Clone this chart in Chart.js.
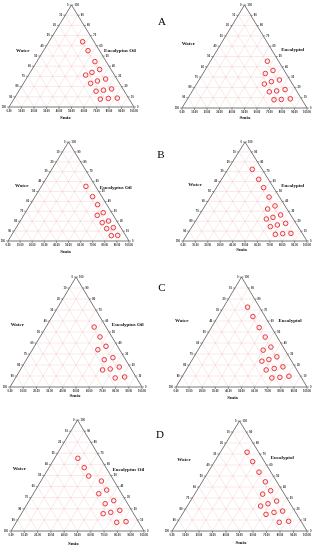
<!DOCTYPE html>
<html>
<head>
<meta charset="utf-8">
<script src="https://cdn.jsdelivr.net/npm/chart.js@4/dist/chart.umd.min.js"></script>
<style>
  html, body { margin: 0; padding: 0; background: #fff; }
  #wrap { position: relative; width: 320px; height: 550px; overflow: hidden; }
  canvas { position: absolute; }
  .letter { position: absolute; font-family: "Liberation Serif", serif; font-size: 11px; color: #000; transform: translate(-50%, -50%); }
</style>
</head>
<body>
<div id="wrap"></div>
<script>
// ---- data: each point is (Smix %, Oil %); Water = 100 - Smix - Oil ----
const A1_smix = [26.9, 35.6, 46.5, 54.1, 49.4, 45.7, 63.6, 58, 53.7, 73.2, 67.3, 61.9, 82.3, 75.3, 69.2];
const A1_oil  = [64, 55.2, 44.5, 36.8, 33.9, 31.3, 27.4, 25.5, 23.2, 17.7, 16.5, 15.5, 8.7, 8.4, 7.7];
const A2_smix = [45.6, 54.6, 49.9, 64.3, 58.7, 54.2, 73.5, 67.4, 62, 82.2, 75.3, 69.6];
const A2_oil  = [45.4, 36.4, 33.5, 27.2, 25.6, 23.3, 17.9, 16.6, 15.7, 8.9, 8.3, 8];
const B1_smix = [36.8, 47.5, 55.7, 64.4, 60.8, 73, 68.6, 80.3, 75.3, 87.8, 82.7];
const B1_oil  = [55.2, 44.8, 36.7, 28.6, 25.9, 20.2, 18.5, 13.5, 12.5, 5.7, 5.4];
const B2_smix = [19.7, 29.9, 38.1, 47.2, 56.5, 52.1, 65.6, 60.6, 56.1, 73.9, 68, 63.2, 83.2, 76.7, 71.1];
const B2_oil  = [72.4, 62.3, 53.9, 44.4, 35.4, 32.3, 26.3, 23.9, 22.2, 17.8, 16.2, 14.5, 7.7, 7.4, 6.7];
const C1_smix = [36.5, 45.4, 54.2, 49.6, 64.6, 59, 73.7, 67.7, 62.4, 82.3, 75.6];
const C1_oil  = [54.5, 45.5, 37, 33.9, 26.7, 24.8, 18.2, 16.4, 15.5, 9.1, 8.2];
const C2_smix = [18.3, 26.7, 36.5, 45.4, 54.3, 49.8, 63.3, 58.4, 53.8, 72.5, 66.6, 61.1, 81.3, 74.9, 69.1];
const C2_oil  = [72.6, 64, 54, 45.4, 36.3, 33.5, 27.4, 25, 23.5, 18.3, 16.8, 15.5, 9.8, 8.8, 8.2];
const D1_smix = [17.5, 26.5, 33.7, 45.5, 53.5, 49.2, 63.6, 58.5, 72.5, 66.6, 61.5, 82.3, 75.6];
const D1_oil  = [65.5, 57.1, 49.5, 45, 36.9, 33.6, 27.3, 24.6, 18.6, 16.8, 15.6, 8.4, 7.8];
const D2_smix = [19.8, 28.2, 37.7, 46.8, 54.8, 50.4, 63.9, 58.7, 54.3, 72.9, 67.1, 62.1, 82, 75.5];
const D2_oil  = [71.6, 63.1, 53.5, 44.7, 36.6, 33.5, 27.2, 24.8, 22.7, 18.1, 16.9, 15.1, 8.8, 7.9];

const tickSteps = [0, 10, 20, 30, 40, 50, 60, 70, 80, 90, 100];
const bottomTickLabels = tickSteps.map(v => v.toFixed(2));
const panelLetters = ['A', 'B', 'C', 'D'];
const oilNames = ['Eucalyptus Oil', 'Eucalyptol'];
const waterName = 'Water';
const smixName = 'Smix';

// ---- layout (canvas box, triangle padding, label positions) ----
const panels = [
  { smix: A1_smix, oil: A1_oil, oilName: oilNames[0], box: [0, 0, 160, 128],   pad: {left: 9,  right: 26, top: 4,  bottom: 21}, water: [22.7, 50.3], oilPos: [120, 50.3],   smixPos: [65.3, 117.3] },
  { smix: A2_smix, oil: A2_oil, oilName: oilNames[1], box: [160, 0, 160, 128], pad: {left: 22, right: 13, top: 3,  bottom: 20}, water: [28.3, 44],   oilPos: [132.7, 49.3], smixPos: [85, 117.3] },
  { smix: B1_smix, oil: B1_oil, oilName: oilNames[0], box: [0, 128, 160, 134], pad: {left: 8,  right: 31, top: 14, bottom: 21}, water: [21.7, 57.7], oilPos: [115.7, 59.3], smixPos: [65.7, 123.7] },
  { smix: B2_smix, oil: B2_oil, oilName: oilNames[1], box: [160, 128, 160, 134], pad: {left: 23, right: 13, top: 14, bottom: 21}, water: [35, 56.3], oilPos: [132.7, 57.7], smixPos: [81.7, 121.3] },
  { smix: C1_smix, oil: C1_oil, oilName: oilNames[0], box: [0, 262, 160, 138], pad: {left: 10, right: 18, top: 15, bottom: 13}, water: [17.3, 62.3], oilPos: [127.7, 62.7], smixPos: [75, 134] },
  { smix: C2_smix, oil: C2_oil, oilName: oilNames[1], box: [160, 262, 160, 138], pad: {left: 16, right: 13, top: 15, bottom: 13}, water: [21.7, 59], oilPos: [130, 59], smixPos: [72.7, 135.3] },
  { smix: D1_smix, oil: D1_oil, oilName: oilNames[0], box: [0, 400, 160, 150], pad: {left: 11, right: 16, top: 20, bottom: 19}, water: [19.3, 69], oilPos: [128.3, 69.3], smixPos: [73.3, 143.3] },
  { smix: D2_smix, oil: D2_oil, oilName: oilNames[1], box: [160, 400, 160, 150], pad: {left: 12, right: 13, top: 21, bottom: 19}, water: [24, 59.3], oilPos: [122.3, 57.7], smixPos: [81, 142.3] }
];
const letterPos = [[162, 21], [161, 154], [162, 287], [160, 434]];

const ternaryPlugin = {
  id: 'ternary',
  beforeDatasetsDraw(chart, args, opts) {
    const ctx = chart.ctx;
    const xs = chart.scales.x, ys = chart.scales.y;
    const P = (x, y) => [xs.getPixelForValue(x), ys.getPixelForValue(y)];
    const line = (a, b) => { ctx.beginPath(); ctx.moveTo(a[0], a[1]); ctx.lineTo(b[0], b[1]); ctx.stroke(); };
    ctx.save();
    // grid
    ctx.strokeStyle = 'rgba(232,150,150,0.45)';
    ctx.lineWidth = 0.5;
    for (const k of tickSteps) {
      if (k === 0 || k === 100) continue;
      line(P(k / 2, k), P(100 - k / 2, k));
      line(P(k, 0), P(k + (100 - k) / 2, 100 - k));
      line(P(100 - k, 0), P((100 - k) / 2, 100 - k));
    }
    // frame
    ctx.strokeStyle = '#555';
    ctx.lineWidth = 0.8;
    ctx.beginPath();
    const a = P(0, 0), b = P(100, 0), c = P(50, 100);
    ctx.moveTo(a[0], a[1]); ctx.lineTo(b[0], b[1]); ctx.lineTo(c[0], c[1]); ctx.closePath(); ctx.stroke();
    // ticks
    ctx.lineWidth = 0.6;
    for (const k of tickSteps) {
      const pb = P(k, 0); line(pb, [pb[0], pb[1] + 2]);
      const pl = P(k / 2, k); line(pl, [pl[0] - 2, pl[1]]);
      const pr = P(100 - k / 2, k); line(pr, [pr[0] + 2, pr[1]]);
    }
    // tick labels
    ctx.fillStyle = '#222';
    ctx.font = 'bold 2.6px "Liberation Sans", sans-serif';
    ctx.textBaseline = 'middle';
    tickSteps.forEach((k, i) => {
      const pb = P(k, 0);
      ctx.textAlign = 'center';
      ctx.fillText(bottomTickLabels[i], pb[0], pb[1] + 4.5);
      const pl = P(k / 2, k);
      ctx.textAlign = 'right';
      ctx.fillText(String(100 - k), pl[0] - 3, pl[1]);
      const pr = P(100 - k / 2, k);
      ctx.textAlign = 'left';
      ctx.fillText(String(k), pr[0] + 3, pr[1]);
    });
    // axis titles
    const p = opts.panel;
    ctx.fillStyle = '#111';
    ctx.font = 'bold 5px "Liberation Serif", serif';
    ctx.textAlign = 'center';
    ctx.fillText(waterName, p.water[0], p.water[1]);
    ctx.fillText(p.oilName, p.oilPos[0], p.oilPos[1]);
    ctx.fillText(smixName, p.smixPos[0], p.smixPos[1]);
    ctx.restore();
  }
};

const wrap = document.getElementById('wrap');
panels.forEach((p, i) => {
  const cv = document.createElement('canvas');
  cv.width = p.box[2]; cv.height = p.box[3];
  cv.style.left = p.box[0] + 'px'; cv.style.top = p.box[1] + 'px';
  cv.style.width = p.box[2] + 'px'; cv.style.height = p.box[3] + 'px';
  wrap.appendChild(cv);
  const pts = p.smix.map((s, j) => ({ x: s + p.oil[j] / 2, y: p.oil[j] }));
  new Chart(cv, {
    type: 'scatter',
    data: { datasets: [{ data: pts, pointRadius: 2.3, pointBorderWidth: 1, pointBorderColor: '#e23a3f', pointBackgroundColor: 'rgba(255,210,210,0.4)' }] },
    options: {
      responsive: false, animation: false, devicePixelRatio: 1, events: [],
      layout: { padding: p.pad },
      scales: { x: { type: 'linear', min: 0, max: 100, display: false }, y: { type: 'linear', min: 0, max: 100, display: false } },
      plugins: { legend: { display: false }, tooltip: { enabled: false }, ternary: { panel: p } }
    },
    plugins: [ternaryPlugin]
  });
});
panelLetters.forEach((L, i) => {
  const d = document.createElement('div');
  d.className = 'letter';
  d.textContent = L;
  d.style.left = letterPos[i][0] + 'px';
  d.style.top = letterPos[i][1] + 'px';
  wrap.appendChild(d);
});
</script>
</body>
</html>
